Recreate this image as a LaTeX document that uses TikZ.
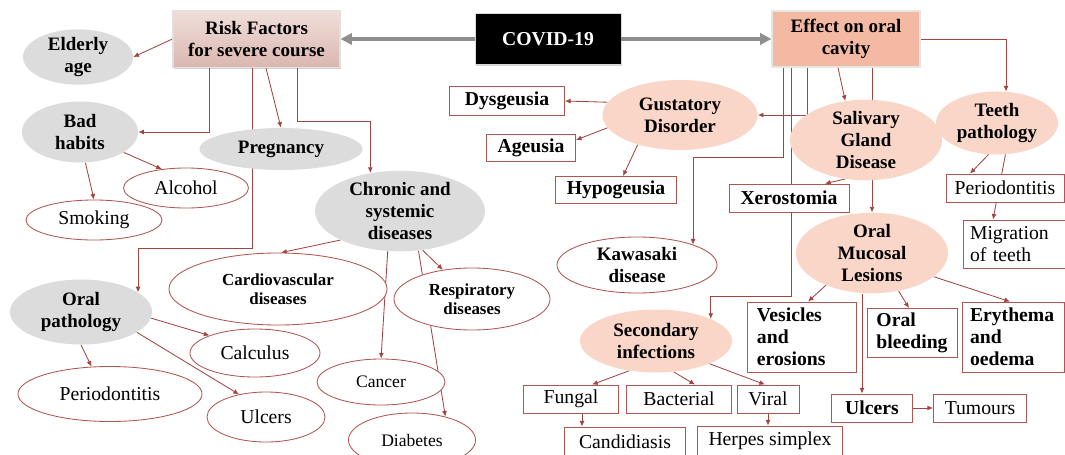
\documentclass[tikz,border=0pt]{standalone}
\usepackage{fontspec}
\setmainfont{Liberation Serif}
\usetikzlibrary{shapes.geometric,arrows.meta,backgrounds,shadows}
\definecolor{linkred}{HTML}{A3443F}
\definecolor{rimred}{HTML}{B0554F}
\definecolor{greyfill}{HTML}{DCDCDC}
\definecolor{pinkfill}{HTML}{F9D6C8}
\definecolor{effectfill}{HTML}{F4B9A2}
\definecolor{risktop}{HTML}{F0DEDA}
\definecolor{riskbot}{HTML}{DBB6B0}
\definecolor{arrowgrey}{HTML}{8E8E8E}
\begin{document}
\begin{tikzpicture}[
    x=0.025cm, y=-0.025cm,
    font=\fontsize{14}{15.5}\selectfont,
    head/.style={rectangle, inner sep=0pt, align=center, font=\fontsize{13.5}{15.5}\selectfont\bfseries,
      drop shadow={shadow xshift=1pt, shadow yshift=-1pt, opacity=0.35}},
    factor/.style={ellipse, fill=greyfill, inner sep=0pt, align=center, font=\fontsize{13.5}{15.5}\selectfont\bfseries},
    effectell/.style={ellipse, fill=pinkfill, inner sep=0pt, align=center, font=\fontsize{13.5}{15.5}\selectfont\bfseries},
    leaf/.style={ellipse, draw=rimred, fill=white, line width=0.6pt, inner sep=0pt, align=center},
    tag/.style={rectangle, draw=rimred, fill=white, line width=0.6pt, inner sep=0pt, align=left},
    tagb/.style={tag, font=\fontsize{14}{15.5}\selectfont\bfseries},
    conn/.style={draw=linkred, line width=0.6pt, -{Latex[length=4pt,width=3.5pt]}},
    bigarrow/.style={draw=arrowgrey, line width=2.2pt, -{Triangle[length=8pt,width=8pt]}}
  ]
  \useasboundingbox (0,0) rectangle (1065,454);
  % Top row
  \node[head, top color=risktop, bottom color=riskbot, draw=black!12, line width=0.8pt,
    minimum width=4.175cm, minimum height=1.425cm] (risk) at (256.5,39) {Risk Factors\\for severe course};
  \node[head, fill=black, text=white, draw=black!15, font=\fontsize{14}{15.5}\selectfont\bfseries,
    minimum width=3.65cm, minimum height=1.275cm] (covid) at (548,39) {COVID-19};
  \node[head, fill=effectfill, draw=black!10, line width=0.8pt,
    minimum width=3.7cm, minimum height=1.4cm] (effect) at (846,39) {Effect on oral\\cavity};
  \draw[bigarrow] (covid.west) -- (risk.east);
  \draw[bigarrow] (covid.east) -- (effect.west);

  % Left: risk factors
  \node[factor, minimum width=2.75cm, minimum height=1.35cm] (elderly) at (78,57) {Elderly\\age};
  \node[factor, minimum width=2.9cm, minimum height=1.525cm] (badhab) at (80,132) {Bad\\habits};
  \node[factor, minimum width=4.075cm, minimum height=1.05cm] (preg) at (281,149) {Pregnancy};
  \node[leaf, minimum width=3.125cm, minimum height=1.0cm] (alcohol) at (186,188) {Alcohol};
  \node[leaf, minimum width=3.4cm, minimum height=1.0cm] (smoking) at (94,220) {Smoking};
  \node[factor, minimum width=4.25cm, minimum height=1.95cm] (chronic) at (400,211) {Chronic and\\systemic\\diseases};
  \node[leaf, font=\fontsize{12}{13.5}\selectfont\bfseries, minimum width=5.45cm, minimum height=1.8cm] (cardio) at (278,289) {Cardiovascular\\diseases};
  \node[leaf, font=\fontsize{12}{13.5}\selectfont\bfseries, minimum width=3.9cm, minimum height=1.55cm] (resp) at (472,299) {Respiratory\\diseases};
  \node[factor, minimum width=3.55cm, minimum height=1.625cm] (oralpath) at (81,312) {Oral\\pathology};
  \node[leaf, minimum width=3.25cm, minimum height=1.2cm] (calculus) at (255,353) {Calculus};
  \node[leaf, minimum width=4.6cm, minimum height=1.375cm] (periol) at (110,394) {Periodontitis};
  \node[leaf, minimum width=2.95cm, minimum height=1.25cm] (ulcersl) at (266,417) {Ulcers};
  \node[leaf, font=\fontsize{12.5}{14}\selectfont, minimum width=3.2cm, minimum height=1.15cm] (cancer) at (381,382) {Cancer};
  \node[leaf, font=\fontsize{12.5}{14}\selectfont, minimum width=3.175cm, minimum height=1.35cm] (diab) at (412,440) {Diabetes};

  % Right: effect on oral cavity
  \node[effectell, minimum width=3.875cm, minimum height=1.75cm] (gust) at (680,115) {Gustatory\\Disorder};
  \node[tagb, minimum width=2.875cm, minimum height=0.725cm] (dysg) at (507,101) {Dysgeusia};
  \node[tagb, minimum width=2.225cm, minimum height=0.675cm] (ageu) at (531,148) {Ageusia};
  \node[tagb, minimum width=3.025cm, minimum height=0.675cm] (hypo) at (616,190) {Hypogeusia};
  \node[effectell, minimum width=3.8cm, minimum height=1.75cm] (saliv) at (866,140) {Salivary\\Gland\\Disease};
  \node[effectell, minimum width=3.05cm, minimum height=1.575cm] (teeth) at (997,123) {Teeth\\pathology};
  \node[tag, minimum width=2.95cm, minimum height=0.7cm] (perior) at (1005,188) {Periodontitis};
  \node[tag, text width=2.2cm, minimum width=2.55cm, minimum height=1.2cm] (migr) at (1014,244) {Migration\\of teeth};
  \node[tagb, minimum width=3.0cm, minimum height=0.7cm] (xero) at (789,198) {Xerostomia};
  \node[leaf, font=\fontsize{13.5}{15.5}\selectfont\bfseries, minimum width=4.0cm, minimum height=1.4cm] (kawa) at (637,265) {Kawasaki\\disease};
  \node[effectell, minimum width=3.8cm, minimum height=1.7cm] (mucos) at (872,253) {Oral\\Mucosal\\Lesions};
  \node[effectell, minimum width=3.8cm, minimum height=1.575cm] (second) at (656,341) {Secondary\\infections};
  \node[tagb, text width=2.25cm, minimum width=2.725cm, minimum height=1.75cm] (vesic) at (802,337) {Vesicles\\and\\erosions};
  \node[tagb, minimum width=2.25cm, minimum height=1.225cm] (bleed) at (912,333) {Oral\\bleeding};
  \node[tagb, text width=2.15cm, minimum width=2.55cm, minimum height=1.75cm] (eryth) at (1013,337) {Erythema\\and\\oedema};
  \node[tag, minimum width=2.375cm, minimum height=0.7cm] (fungal) at (571,399) {Fungal};
  \node[tag, minimum width=2.625cm, minimum height=0.7cm] (bact) at (679,399) {Bacterial};
  \node[tag, minimum width=1.55cm, minimum height=0.7cm] (viral) at (768,399) {Viral};
  \node[tag, minimum width=3.025cm, minimum height=0.75cm] (candi) at (625,442) {Candidiasis};
  \node[tag, minimum width=3.625cm, minimum height=0.75cm] (herpes) at (770,441) {Herpes simplex};
  \node[tagb, minimum width=2.025cm, minimum height=0.7cm] (ulcersr) at (872,408) {Ulcers};
  \node[tag, minimum width=2.325cm, minimum height=0.7cm] (tumours) at (980,408) {Tumours};
  \coordinate (fc) at ([xshift=0.275cm]fungal.south);

  \begin{scope}[on background layer]
    % risk factor links
    \draw[conn] (risk.west) -- (elderly.east);
    \draw[conn] ([xshift=-1.1875cm]risk.south) |- (badhab.east);
    \draw[conn] ([xshift=0.2375cm]risk.south) -- (preg.north);
    \draw[conn] ([xshift=-0.1125cm]risk.south) -- ++(0,180) -| (oralpath.19);
    \draw[conn] ([xshift=1.0125cm]risk.south) -- ++(0,53) -| (chronic.128);
    \draw[conn] (badhab.-25) -- (alcohol.142);
    \draw[conn] (badhab.-80) -- (smoking.north);
    \draw[conn] (chronic.206) -- (cardio.85);
    \draw[conn] (chronic.-107) -- (cancer.north);
    \draw[conn] (chronic.-60) -- (resp.135);
    \draw[conn] (chronic.-65) -- (diab.35);
    \draw[conn] (oralpath.-5) -- (calculus.159);
    \draw[conn] (oralpath.-90) -- (periol.124);
    \draw[conn] (oralpath.-20) -- (ulcersl.140);
    % oral cavity links
    \draw[conn] (effect.east) -| (teeth.74);
    \draw[conn] ([xshift=-0.2cm]effect.south) -- (saliv.118);
    \draw[conn] (effect.south -| mucos.north) -- (mucos.north);
    \draw[conn] ([xshift=-0.975cm]effect.south) |- (gust.east);
    \draw[conn] ([xshift=-1.575cm]effect.south) -- ++(0,89.5) -| (kawa.20);
    \draw[conn] ([xshift=-1.375cm]effect.south) -- ++(0,228.5) -| (second.22);
    \draw[conn] (saliv.-118) -- ([xshift=0.9cm]xero.north);
    \draw[conn] (teeth.-105) -- ([xshift=-0.875cm]perior.north);
    \draw[conn] (teeth.-75) -- ([xshift=-0.525cm]migr.north);
    \draw[conn] (gust.170) -- (dysg.east);
    \draw[conn] (gust.190) -- ([yshift=0.2cm]ageu.east);
    \draw[conn] (gust.-145) -- ([xshift=0.175cm]hypo.north);
    \draw[conn] (mucos.-145) -- ([xshift=0.15cm]vesic.north);
    \draw[conn] (mucos.-55) -- ([xshift=-0.075cm]bleed.north);
    \draw[conn] (mucos.-21) -- ([xshift=-0.075cm]eryth.north);
    \draw[conn] ([xshift=-0.25cm]mucos.south) -- ([xshift=-0.25cm]ulcersr.north);
    \draw[conn] (ulcersr.east) -- (tumours.west);
    \draw[conn] (second.-132) -- ([xshift=0.525cm]fungal.north);
    \draw[conn] (second.-60) -- ([xshift=0.4cm]bact.north);
    \draw[conn] (second.-23) -- ([xshift=-0.075cm]viral.north);
    \draw[conn] (fc) -- (fc |- candi.north);
    \draw[conn] (viral.south) -- (viral.south |- herpes.north);
  \end{scope}
\end{tikzpicture}
\end{document}
